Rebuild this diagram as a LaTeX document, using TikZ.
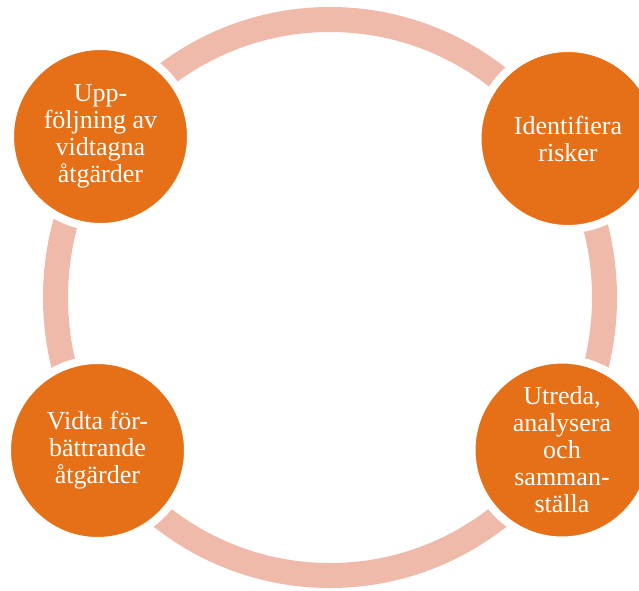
\documentclass[tikz,border=0pt]{standalone}
\usepackage{fontspec}
\setmainfont{Liberation Serif}
\definecolor{ringcol}{HTML}{F0BAAA}
\definecolor{stepcol}{HTML}{E67017}
\begin{document}
\begin{tikzpicture}[x=1pt,y=-1pt,
  ring/.style={draw=ringcol,line width=25pt},
  stepnode/.style={circle,fill=stepcol,draw=white,line width=8pt,
    minimum size=181pt,inner sep=0pt,text=white,align=center,
    font=\fontsize{26}{27}\selectfont}]
  \useasboundingbox (0,0) rectangle (639,590);
  % background ring of the cycle
  \draw[ring] (330,297.5) ellipse [x radius=274.5, y radius=278];
  % the four steps
  \node[stepnode] (identify) at (568,138.5) {Identifiera\\risker};
  \node[stepnode] (analyse) at (562,450) {Utreda,\\analysera\\och\\samman-\\ställa};
  \node[stepnode] (act) at (97.5,450.5) {Vidta för-\\bättrande\\åtgärder};
  \node[stepnode] (follow) at (100.5,136.5) {Upp-\\följning av\\vidtagna\\åtgärder};
\end{tikzpicture}
\end{document}
